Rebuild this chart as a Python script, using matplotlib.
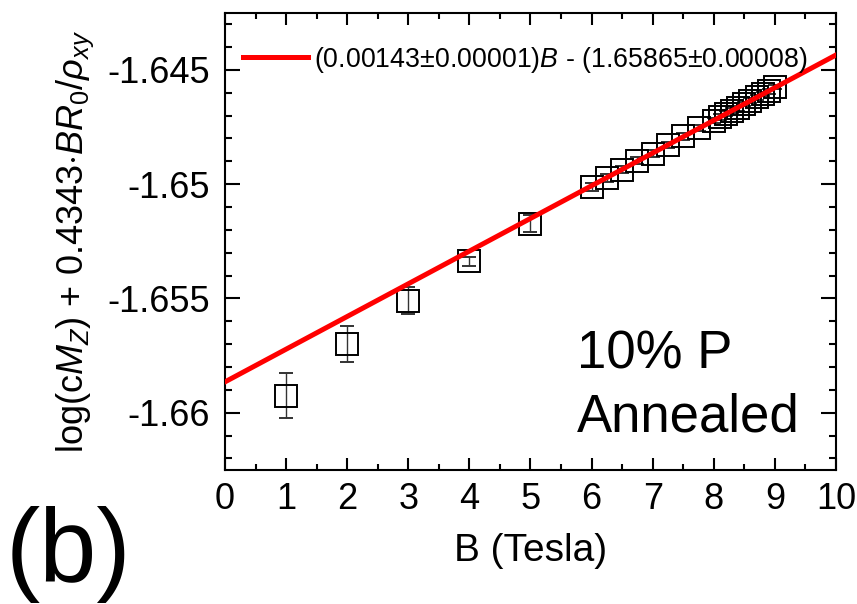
import matplotlib
matplotlib.use("Agg")
import matplotlib.pyplot as plt
from matplotlib.ticker import MultipleLocator, FuncFormatter

plt.rcParams["font.family"] = ["Liberation Sans", "DejaVu Sans"]
plt.rcParams["mathtext.fontset"] = "custom"
plt.rcParams["mathtext.rm"] = "Liberation Sans"
plt.rcParams["mathtext.it"] = "Liberation Sans:italic"
plt.rcParams["mathtext.bf"] = "Liberation Sans:bold"

# data
field_T = [1, 2, 3, 4, 5, 6, 6.25, 6.5, 6.75, 7, 7.25, 7.5, 7.75,
           8.0, 8.1, 8.2, 8.3, 8.4, 8.5, 8.6, 8.7, 8.8, 8.9, 9.0]
signal = [-1.65925, -1.65700, -1.65510, -1.65337, -1.65173, -1.65013,
          -1.64974, -1.64937, -1.64898, -1.64866, -1.64828, -1.64791,
          -1.64756, -1.64722, -1.64707, -1.64693, -1.64679, -1.64667,
          -1.64649, -1.64635, -1.64620, -1.64606, -1.64594, -1.64576]
signal_err = [0.00100, 0.00079, 0.00060, 0.00020, 0.00036, 0.00018,
              0.00017, 0.00016, 0.00015, 0.00015, 0.00014, 0.00014,
              0.00013, 0.00012, 0.00012, 0.00011, 0.00011, 0.00011,
              0.00010, 0.00010, 0.00010, 0.00010, 0.00010, 0.00010]
fit_slope, fit_intercept = 0.00143, -1.65865
fit_x = [0, 10]
fit_label = r"(0.00143$\pm$0.00001)$B$ - (1.65865$\pm$0.00008)"
y_ticks = [-1.66, -1.655, -1.65, -1.645]

fig = plt.figure(figsize=(8.57, 6.04), dpi=100)
ax = fig.add_axes([0.2625, 0.222, 0.713, 0.757])

ax.errorbar(field_T, signal, yerr=signal_err, fmt="s", ms=16, mfc="none",
            mec="black", mew=1.4, ecolor="#333333", elinewidth=1.0, capsize=5,
            capthick=1.0, zorder=2)
ax.plot(fit_x, [fit_slope * x + fit_intercept for x in fit_x], color="red",
        lw=3.6, zorder=3, label=fit_label)

ax.set_xlim(0, 10)
ax.set_ylim(-1.6625, -1.6425)
ax.xaxis.set_major_locator(MultipleLocator(1))
ax.xaxis.set_minor_locator(MultipleLocator(0.5))
ax.set_yticks(y_ticks)
ax.yaxis.set_minor_locator(MultipleLocator(0.001))
ax.yaxis.set_major_formatter(FuncFormatter(lambda v, p: "%g" % round(v, 4)))
ax.tick_params(which="both", direction="in", top=True, right=True, width=1.5)
ax.tick_params(which="major", labelsize=26)
ax.tick_params(axis="x", which="major", length=8.8, pad=9)
ax.tick_params(axis="x", which="minor", length=4.4)
ax.tick_params(axis="y", which="major", length=10.5, pad=11)
ax.tick_params(axis="y", which="minor", length=5.2)
for s in ax.spines.values():
    s.set_linewidth(1.5)

ax.set_xlabel("B (Tesla)", fontsize=28, labelpad=11)
ax.set_ylabel(r"log(c$M_Z$) + 0.4343$\cdot$$BR_0/\rho_{xy}$", fontsize=26,
              labelpad=8)

ax.legend(loc="center left", bbox_to_anchor=(0.03, 0.897), frameon=False,
          fontsize=19.3, handlelength=2.4, handletextpad=0.25, borderpad=0,
          borderaxespad=0)

ax.text(5.76, -1.65747, "10% P", fontsize=38, ha="left", va="center")
ax.text(5.76, -1.66022, "Annealed", fontsize=38, ha="left", va="center")
fig.text(0.006, 0.082, "(b)", fontsize=74, ha="left", va="center")

fig.savefig("out.png", dpi=100)
